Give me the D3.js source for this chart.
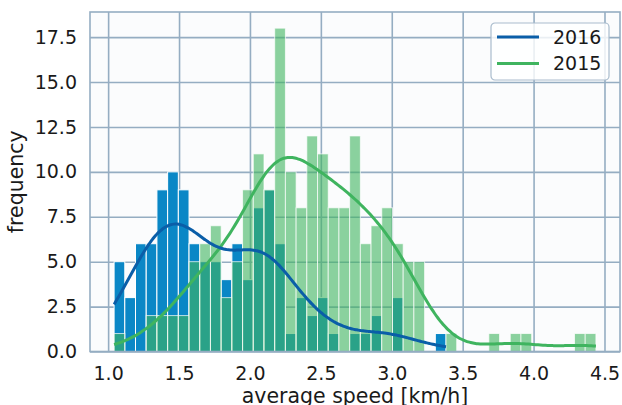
<!DOCTYPE html>
<html>
<head>
<meta charset="utf-8">
<script src="https://cdn.jsdelivr.net/npm/d3@7"></script>
<style>
  body { margin: 0; background: #fff; }
  text { font-family: "DejaVu Sans", sans-serif; fill: #1a1a1a; }
</style>
</head>
<body>
<div id="chart"></div>
<script>
var w = 622, h = 405;

// histogram bins (shared by both years)
var binStart = 1.042, binWidth = 0.0755;
var counts2016 = [5, 3, 6, 6, 9, 10, 9, 6, 5, 5, 4, 6, 4, 8, 9, 6, 1, 3, 2, 3, 1, 0, 1, 1, 2, 0, 3, 0, 0, 0, 1,
                  0, 0, 0, 0, 0, 0, 0, 0, 0, 0, 0, 0, 0, 0];
var counts2015 = [1, 0, 0, 2, 2, 2, 2, 5, 6, 7, 3, 5, 9, 11, 9, 18, 10, 8, 12, 11, 8, 8, 12, 6, 7, 8, 6, 5, 5, 0, 0,
                  1, 0, 0, 0, 1, 0, 1, 1, 0, 0, 0, 0, 1, 1];
var years = ["2016", "2015"];
var xTicks = [1.0, 1.5, 2.0, 2.5, 3.0, 3.5, 4.0, 4.5];
var yTicks = [0, 2.5, 5, 7.5, 10, 12.5, 15, 17.5];

var barBlue = "#0a87c6", lineBlue = "#0a5ea8";
var green = "#3fb45f";
var gridColor = "#95adc2";

var pL = 90, pR = 620, pT = 12, pB = 351.5;

var svg = d3.select("#chart").append("svg")
  .attr("width", w)
  .attr("height", h);

var nBins = counts2015.length;
var lo = binStart, hi = binStart + nBins * binWidth;
var pad = (hi - lo) * 0.05;

var x = d3.scaleLinear().domain([lo - pad, hi + pad]).range([pL, pR]);
var ymax = d3.max(counts2015.concat(counts2016)) * 1.05;
var y = d3.scaleLinear().domain([0, ymax]).range([pB, pT]);

function bins(counts) {
  return counts.map(function(c, i) {
    return { x0: binStart + i * binWidth, x1: binStart + (i + 1) * binWidth, c: c };
  });
}

// plot background
svg.append("rect")
  .attr("x", pL).attr("y", pT)
  .attr("width", pR - pL).attr("height", pB - pT)
  .attr("fill", "#fbfcfd");

// grid
var gx = svg.append("g")
  .attr("transform", "translate(0," + pB + ")")
  .call(d3.axisBottom(x).tickValues(xTicks).tickSize(-(pB - pT)).tickFormat(""));
gx.select(".domain").remove();
gx.selectAll("line").attr("stroke", gridColor).attr("stroke-width", 1.6);

var gy = svg.append("g")
  .attr("transform", "translate(" + pL + ",0)")
  .call(d3.axisLeft(y).tickValues(yTicks).tickSize(-(pR - pL)).tickFormat(""));
gy.select(".domain").remove();
gy.selectAll("line").attr("stroke", gridColor).attr("stroke-width", 1.6);

// bars: 2016 first, then translucent 2015 on top
svg.append("g").selectAll("rect")
  .data(bins(counts2016).filter(function(d) { return d.c > 0; }))
  .enter().append("rect")
  .attr("x", function(d) { return x(d.x0); })
  .attr("width", function(d) { return x(d.x1) - x(d.x0); })
  .attr("y", function(d) { return y(d.c); })
  .attr("height", function(d) { return y(0) - y(d.c); })
  .attr("fill", barBlue)
  .attr("stroke", "#fff")
  .attr("stroke-width", 1);

svg.append("g").selectAll("rect")
  .data(bins(counts2015).filter(function(d) { return d.c > 0; }))
  .enter().append("rect")
  .attr("x", function(d) { return x(d.x0); })
  .attr("width", function(d) { return x(d.x1) - x(d.x0); })
  .attr("y", function(d) { return y(d.c); })
  .attr("height", function(d) { return y(0) - y(d.c); })
  .attr("fill", green)
  .attr("fill-opacity", 0.6)
  .attr("stroke", "#fff")
  .attr("stroke-opacity", 0.7)
  .attr("stroke-width", 1);

// kde (gaussian, scott bandwidth) scaled to counts
function kdeLine(counts) {
  var samples = [];
  counts.forEach(function(c, i) {
    for (var k = 0; k < c; k++) samples.push(binStart + (i + 0.5) * binWidth);
  });
  var n = samples.length;
  var sd = d3.deviation(samples);
  var bw = sd * Math.pow(n, -0.2);
  var first = counts.findIndex(function(c) { return c > 0; });
  var last = counts.length - 1 - counts.slice().reverse().findIndex(function(c) { return c > 0; });
  var a = binStart + first * binWidth, b = binStart + (last + 1) * binWidth;
  var pts = d3.range(201).map(function(j) {
    var xv = a + (b - a) * j / 200;
    var dens = d3.sum(samples, function(s) {
      var u = (xv - s) / bw;
      return Math.exp(-0.5 * u * u);
    }) / (n * bw * Math.sqrt(2 * Math.PI));
    return [xv, dens * n * binWidth];
  });
  return pts;
}

var line = d3.line()
  .x(function(d) { return x(d[0]); })
  .y(function(d) { return y(d[1]); })
  .curve(d3.curveBasis);

svg.append("path")
  .attr("d", line(kdeLine(counts2015)))
  .attr("fill", "none")
  .attr("stroke", green)
  .attr("stroke-width", 3);

svg.append("path")
  .attr("d", line(kdeLine(counts2016)))
  .attr("fill", "none")
  .attr("stroke", lineBlue)
  .attr("stroke-width", 3);

// frame
svg.append("rect")
  .attr("x", pL).attr("y", pT)
  .attr("width", pR - pL).attr("height", pB - pT)
  .attr("fill", "none")
  .attr("stroke", gridColor)
  .attr("stroke-width", 1.6);

// tick labels
var ax = svg.append("g")
  .attr("transform", "translate(0," + pB + ")")
  .call(d3.axisBottom(x).tickValues(xTicks).tickSize(0).tickPadding(15).tickFormat(d3.format(".1f")));
ax.select(".domain").remove();
ax.selectAll("text").style("font-size", "19px").attr("fill", "#1a1a1a")
  .style("font-family", "DejaVu Sans");

var ay = svg.append("g")
  .attr("transform", "translate(" + pL + ",0)")
  .call(d3.axisLeft(y).tickValues(yTicks).tickSize(0).tickPadding(13).tickFormat(d3.format(".1f")));
ay.select(".domain").remove();
ay.selectAll("text").style("font-size", "19px").attr("fill", "#1a1a1a")
  .style("font-family", "DejaVu Sans");

// axis titles
svg.append("text")
  .attr("x", (pL + pR) / 2)
  .attr("y", 403)
  .attr("text-anchor", "middle")
  .style("font-size", "20.5px")
  .text("average speed [km/h]");

svg.append("text")
  .attr("transform", "translate(22.5," + ((pT + pB) / 2) + ") rotate(-90)")
  .attr("text-anchor", "middle")
  .style("font-size", "20.5px")
  .text("frequency");

// legend
var lg = svg.append("g").attr("transform", "translate(491,23)");
lg.append("rect")
  .attr("width", 118).attr("height", 57)
  .attr("rx", 4)
  .attr("fill", "#fff").attr("fill-opacity", 0.8)
  .attr("stroke", "#a9bccd").attr("stroke-width", 1.2);
[lineBlue, green].forEach(function(c, i) {
  lg.append("line")
    .attr("x1", 6).attr("x2", 48)
    .attr("y1", 14 + i * 26.5).attr("y2", 14 + i * 26.5)
    .attr("stroke", c).attr("stroke-width", 3);
  lg.append("text")
    .attr("x", 62).attr("y", 14 + i * 26.5)
    .attr("dy", "0.36em")
    .style("font-size", "19px")
    .text(years[i]);
});
</script>
</body>
</html>
